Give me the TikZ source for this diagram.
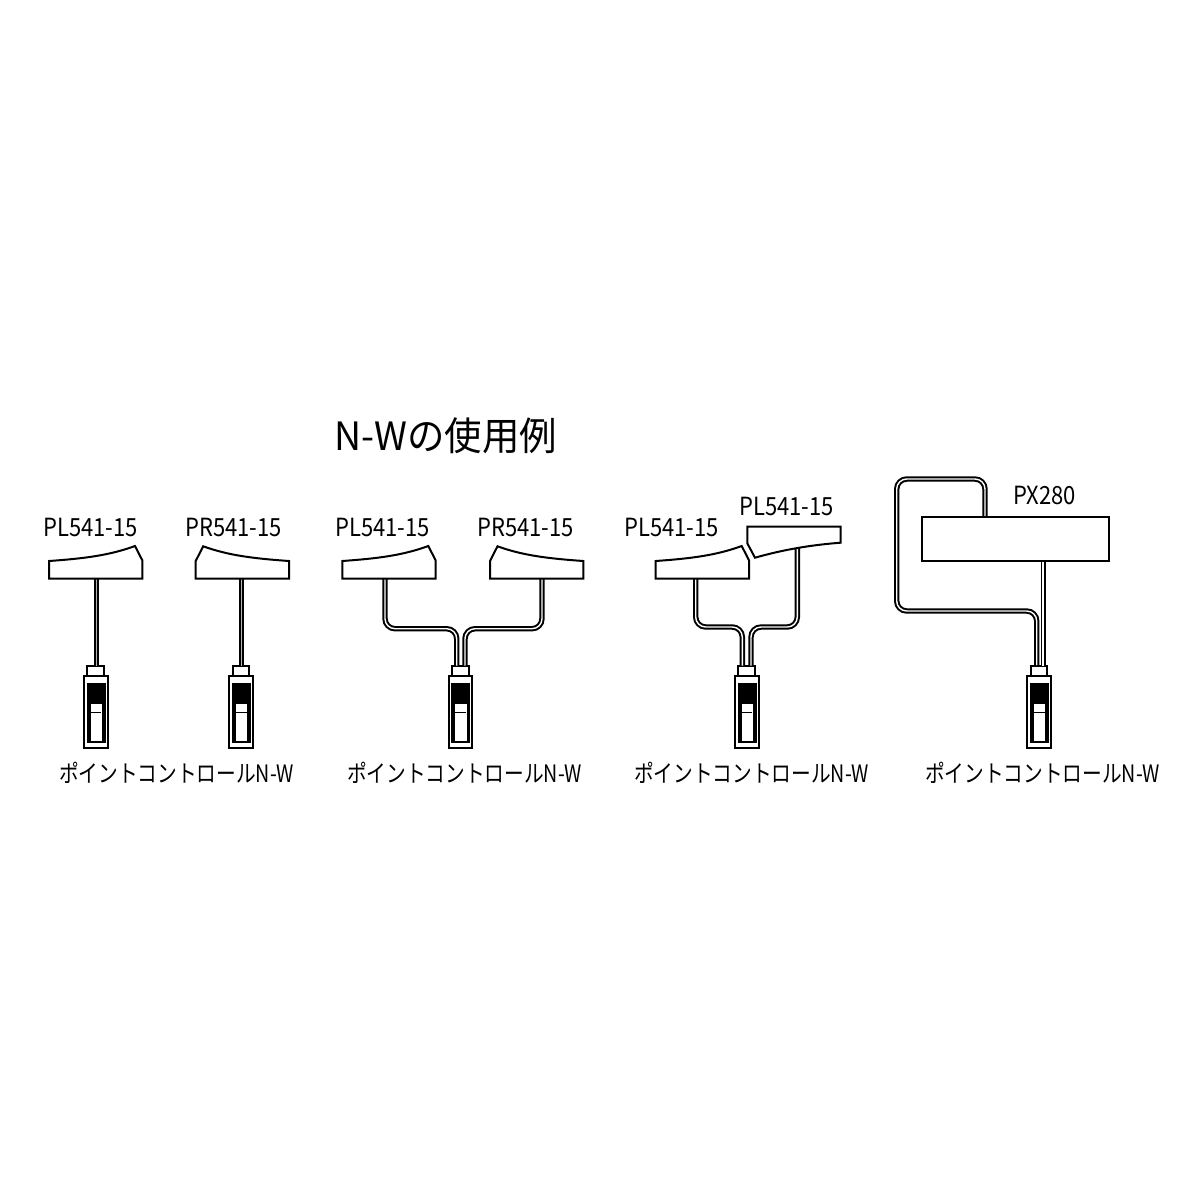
\documentclass[tikz,border=0pt]{standalone}
\usepackage{fontspec}
\setmainfont[FakeStretch=0.96]{Noto Sans CJK JP}
\newfontfamily\ctrlfont[FakeStretch=0.82]{Noto Sans CJK JP}
\newfontfamily\partfont[FakeStretch=0.88]{Noto Sans CJK JP}
\usepackage{tikz}
\tikzset{
 outline/.style={draw=black, fill=white, line width=2pt, line join=miter},
 cable/.style={draw=black, line width=2pt, double=white, double distance=1.4pt, rounded corners=10pt},
 thincable/.style={draw=black, line width=1.9pt, double=black!30, double distance=1.2pt},
 partlabel/.style={font=\partfont\fontsize{25}{28}\selectfont, inner sep=0pt},
 ctrllabel/.style={font=\ctrlfont\fontsize{24}{27}\selectfont, inner sep=0pt},
}
\begin{document}
\begin{tikzpicture}[x=1pt,y=-1pt]
 \path[use as bounding box, fill=white] (0,0) rectangle (1200,1200);

\node[font=\fontsize{39}{44}\selectfont, inner sep=0pt] (title) at (446,436) {N-Wの使用例};

% controllers
\foreach \n/\x in {a/95.7, b/241, c/460.3, d/746.7, e/1039} {
	\filldraw[outline] (\x-11.8,676) rectangle (\x+11.8,748);
	\filldraw[outline] (\x-8.3,665.5) rectangle (\x+8.3,676);
	\filldraw[fill=black, draw=black] (\x-9,682.7) rectangle (\x+9,741.7);
	\filldraw[fill=white, draw=white] (\x-5,704) rectangle (\x+5.5,740);
	\draw[black, line width=0.8pt] (\x-5,712.7) -- (\x+5.5,712.7);
	\coordinate (neck\n) at (\x,665.5);
}

\node[ctrllabel] (ctrlA) at (176.5,773) {ポイントコントロールN-W};
\node[ctrllabel] (ctrlC) at (464.5,773) {ポイントコントロールN-W};
\node[ctrllabel] (ctrlD) at (751.5,773) {ポイントコントロールN-W};
\node[ctrllabel] (ctrlE) at (1042.5,773) {ポイントコントロールN-W};

% cables
\coordinate (plA) at (96.5,578);
\coordinate (prB) at (241.7,578);
\coordinate (plC) at (385,578);
\coordinate (prC) at (542,578);
\coordinate (plD) at (695.7,578);
\coordinate (plE) at (797.3,545);
\coordinate (pxF) at (985,517);
\coordinate (pxG) at (1043,561);

\draw[thincable] (plA) -- (plA |- necka);
\draw[thincable] (prB) -- (prB |- neckb);
\draw[cable] (plC) -- (385,628.7) -- (456.7,628.7) -- (456.7,665.5);
\draw[cable] (prC) -- (542,628.7) -- (465,628.7) -- (465,665.5);
\draw[cable] (plD) -- (695.7,627) -- (742.3,627) -- (742.3,665.5);
\draw[cable] (plE) -- (797.3,627) -- (751,627) -- (751,665.5);
\draw[cable] (pxF) -- (985,479) -- (896.7,479) -- (896.7,611) -- (1036.7,611) -- (1036.7,665);
\draw[thincable, double=white] (pxG) -- (pxG |- necke);

% turnouts
\foreach \x in {49, 342.3, 655.7}
	\filldraw[outline] (\x,561) .. controls (\x+35,558.5) and (\x+60,555.5) .. (\x+86,546) -- (\x+93.3,560.3) -- (\x+93.3,578.5) -- (\x,578.5) -- cycle;

\foreach \x in {195.7, 490}
	\filldraw[outline] (\x,561) -- (\x+7.5,546.3) .. controls (\x+33,555.5) and (\x+58,558.5) .. (\x+93.3,561) -- (\x+93.3,578.5) -- (\x,578.5) -- cycle;

\filldraw[outline] (747.3,526.7) -- (840.7,526.7) -- (840.7,542.7) .. controls (810,545) and (782,550) .. (755,557.7) -- (747.3,543.3) -- cycle;

\filldraw[outline] (921.7,516.7) rectangle (1109,561);

% labels
\foreach \n/\x/\y/\t in {a/90.5/527/PL541-15, b/233.5/527/PR541-15, c/382.5/527/PL541-15, d/525.5/527/PR541-15, e/671.5/527/PL541-15, f/786.5/506/PL541-15, g/1044.5/495/PX280}
	\node[partlabel] (part\n) at (\x,\y) {\t};

\end{tikzpicture}
\end{document}
